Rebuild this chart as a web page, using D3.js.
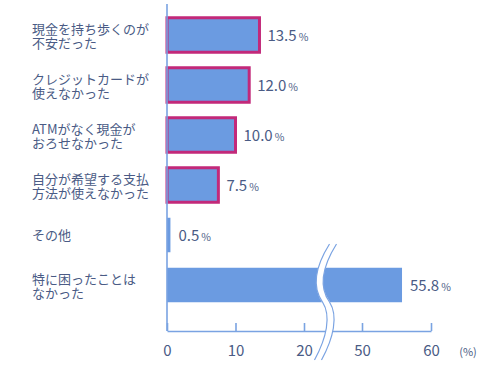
<!DOCTYPE html>
<html>
<head>
<meta charset="utf-8">
<script src="https://cdn.jsdelivr.net/npm/d3@7"></script>
<style>
  body { margin: 0; background: #fff; }
  text { font-family: "Noto Sans CJK JP", "Noto Sans", sans-serif; fill: #4a5b85; }
</style>
</head>
<body>
<svg id="chart" width="500" height="378"></svg>
<script>
// answers (top to bottom)
const categories = [
  ["現金を持ち歩くのが", "不安だった"],
  ["クレジットカードが", "使えなかった"],
  ["ATMがなく現金が", "おろせなかった"],
  ["自分が希望する支払", "方法が使えなかった"],
  ["その他"],
  ["特に困ったことは", "なかった"]
];
const values = [13.5, 12.0, 10.0, 7.5, 0.5, 55.8];
const outlined = [true, true, true, true, false, false];
const tickValues = [0, 10, 20, 50, 60];

const svg = d3.select("#chart");
const axisColor = "#7aa3e2";

// broken axis: 0-20 then 50-60
let x = d3.scaleLinear()
  .domain([0, 20, 50, 60])
  .range([167, 304, 362, 431]);

let y = d3.scaleBand()
  .domain(d3.range(values.length))
  .range([10, 310])
  .paddingInner(0.31)
  .paddingOuter(0.155);

// bars
svg.append("g").selectAll("rect")
  .data(values)
  .join("rect")
  .attr("x", x(0))
  .attr("y", (d, i) => y(i))
  .attr("width", d => x(d) - x(0))
  .attr("height", y.bandwidth())
  .attr("fill", "#6b9be1")
  .attr("stroke", (d, i) => outlined[i] ? "#c2297a" : "none")
  .attr("stroke-width", 3);

// y axis line
svg.append("line")
  .attr("x1", x(0)).attr("x2", x(0))
  .attr("y1", 4).attr("y2", 331)
  .attr("stroke", axisColor)
  .attr("stroke-width", 1.6);

// x axis
let xAxis = d3.axisBottom(x)
  .tickValues(tickValues)
  .tickSizeInner(-8)
  .tickSizeOuter(0)
  .tickPadding(14);

let gx = svg.append("g")
  .attr("transform", "translate(0,331)")
  .call(xAxis);
gx.select(".domain").attr("stroke", axisColor).attr("stroke-width", 1.6);
gx.selectAll(".tick line").attr("stroke", axisColor).attr("stroke-width", 1.6);
gx.selectAll(".tick text")
  .attr("font-size", 15)
  .attr("fill", "#4a5b85")
  .style("font-family", "'Noto Sans CJK JP', sans-serif");

svg.append("text")
  .attr("x", 468).attr("y", 356)
  .attr("text-anchor", "middle")
  .attr("font-size", 11)
  .text("(%)");

// break mark
let breakPath = "M333,244 C318,268 316,288 326,302 C335,316 330,338 318,360";
svg.append("path")
  .attr("d", breakPath)
  .attr("fill", "none")
  .attr("stroke", "#fff")
  .attr("stroke-width", 7);
svg.append("path")
  .attr("d", breakPath)
  .attr("transform", "translate(-3.5,0)")
  .attr("fill", "none")
  .attr("stroke", axisColor)
  .attr("stroke-width", 1.2);
svg.append("path")
  .attr("d", breakPath)
  .attr("transform", "translate(3.5,0)")
  .attr("fill", "none")
  .attr("stroke", axisColor)
  .attr("stroke-width", 1.2);

// category labels, one text per line
let lines = [];
categories.forEach((c, i) => {
  c.forEach((t, j) => lines.push({ t: t, i: i, j: j, n: c.length }));
});
svg.append("g").selectAll("text")
  .data(lines)
  .join("text")
  .attr("x", 32)
  .attr("y", d => y(d.i) + y.bandwidth() / 2 + (d.n > 1 ? -1 + d.j * 14 : 5))
  .attr("font-size", 13)
  .text(d => d.t);

// value labels
let vals = svg.append("g").selectAll("text")
  .data(values)
  .join("text")
  .attr("x", d => x(d) + 8)
  .attr("y", (d, i) => y(i) + y.bandwidth() / 2 + 6);
vals.append("tspan")
  .attr("font-size", 15)
  .text(d => d3.format(".1f")(d));
vals.append("tspan")
  .attr("font-size", 10.5)
  .attr("dx", 2)
  .text("%");
</script>
</body>
</html>
